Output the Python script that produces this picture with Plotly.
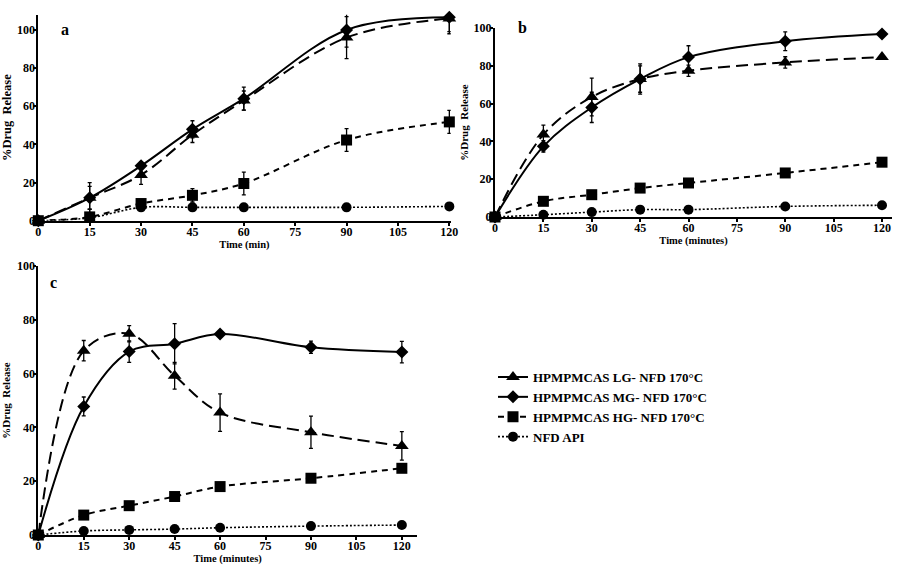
import plotly.graph_objects as go

time = [0, 15, 30, 45, 60, 90, 120]
x_ticks = [0, 15, 30, 45, 60, 75, 90, 105, 120]
y_ticks = [0, 20, 40, 60, 80, 100]
series_names = ["HPMPMCAS LG- NFD 170°C", "HPMPMCAS MG- NFD 170°C",
                "HPMPMCAS HG- NFD 170°C", "NFD API"]

# Panel a
a_lg = [0, 12, 24, 45, 63, 96, 106]
a_lg_err = [0, 6, 5, 4, 5, 11, 8]
a_mg = [0, 12, 28.8, 47.9, 64, 100, 106.6]
a_mg_err = [0, 8, 2, 4.5, 6, 9, 7.5]
a_hg = [0, 2, 9, 13.3, 19.5, 42.3, 51.8]
a_hg_err = [0, 4, 2, 3.5, 6, 6, 6]
a_api = [0, 1.5, 7, 7, 7, 7, 7.5]
a_api_err = [0, 0.5, 0.5, 0.5, 0.5, 0.5, 0.5]

# Panel b
b_lg = [0, 43.6, 63.5, 73, 77.4, 81.8, 84.6]
b_lg_err = [0, 5, 10, 8, 3, 3, 0]
b_mg = [0, 37.4, 58, 73, 84.6, 93, 96.8]
b_mg_err = [0, 3, 8, 7, 6, 5, 0]
b_hg = [0, 8.3, 11.8, 15.3, 18, 23.3, 29]
b_hg_err = [0, 0.5, 0.5, 0.5, 0.5, 2, 0.5]
b_api = [0, 1.2, 2.6, 3.9, 3.9, 5.6, 6.2]
b_api_err = [0, 0.3, 0.3, 0.3, 0.3, 0.3, 0.3]

# Panel c
c_lg = [0, 68.5, 74.8, 59.2, 45.5, 38.2, 33.1]
c_lg_err = [0, 3.8, 3, 5, 7, 6, 5.3]
c_mg = [0, 47.8, 68.2, 71.1, 74.7, 69.8, 68]
c_mg_err = [0, 3.5, 4, 7.5, 0.5, 2.3, 4]
c_hg = [0, 7.4, 10.9, 14.3, 18, 21.1, 24.8]
c_hg_err = [0, 0.5, 0.5, 0.5, 0.5, 0.5, 0.5]
c_api = [0, 1.5, 1.9, 2.2, 2.7, 3.3, 3.7]
c_api_err = [0, 0.3, 0.3, 0.3, 0.3, 0.3, 0.3]

panels = [
    ("x", "y", [a_lg, a_mg, a_hg, a_api], [a_lg_err, a_mg_err, a_hg_err, a_api_err]),
    ("x2", "y2", [b_lg, b_mg, b_hg, b_api], [b_lg_err, b_mg_err, b_hg_err, b_api_err]),
    ("x3", "y3", [c_lg, c_mg, c_hg, c_api], [c_lg_err, c_mg_err, c_hg_err, c_api_err]),
]

symbols = ["triangle-up", "diamond", "square", "circle"]
msizes = [12, 10, 11, 10]
dashes = ["12px,6px", "solid", "6px,5px", "2px,2px"]
widths = [2, 2, 2, 1.6]
draw_order = [3, 0, 1, 2]  # API first so squares sit on top

FONT = "Liberation Serif"
fig = go.Figure()
for pi, (xa, ya, vals, errs) in enumerate(panels):
    for si in draw_order:
        fig.add_trace(go.Scatter(
            x=time, y=vals[si], xaxis=xa, yaxis=ya,
            mode="lines+markers",
            name=series_names[si],
            legendgroup=series_names[si],
            legendrank=si + 1,
            showlegend=(pi == 0),
            cliponaxis=False,
            line=dict(color="black", width=widths[si], dash=dashes[si],
                      shape="spline", smoothing=1),
            marker=dict(symbol=symbols[si], size=msizes[si], color="black"),
            error_y=dict(type="data", array=errs[si], visible=True,
                         color="black", thickness=1.3, width=2),
        ))

tickfont = dict(family=FONT, size=12, color="black", weight="bold")
axis_common = dict(showline=True, linecolor="black", linewidth=2, automargin=False,
                   ticks="outside", ticklen=3, tickwidth=1.5, tickcolor="black",
                   showgrid=False, zeroline=False, tickfont=tickfont)
xtitle_font = dict(family=FONT, size=10.5, color="black", weight="bold")

def xtitle(text):
    return dict(text=text, font=xtitle_font, standoff=2)

def ytitle(size, standoff):
    return dict(text="%Drug\u00a0\u00a0Release", standoff=standoff,
                font=dict(family=FONT, size=size, color="black", weight="bold"))

W, H = 902, 569
def dx(px): return px / W
def dy(px): return 1 - px / H

fig.update_layout(
    width=W, height=H, margin=dict(l=0, r=0, t=0, b=0),
    plot_bgcolor="white", paper_bgcolor="white",
    font=dict(family=FONT, color="black"),
    xaxis=dict(domain=[dx(38.3), dx(450.7)], range=[0, 120.4], anchor="y",
               tickvals=x_ticks, title=xtitle("Time (min)"), ticklabelstandoff=-4,
               **axis_common),
    yaxis=dict(domain=[dy(220.7), dy(14.7)], range=[0, 108], anchor="x",
               tickvals=y_ticks, title=ytitle(12.5, 10), ticklabelstandoff=-4,
               **axis_common),
    xaxis2=dict(domain=[dx(495), dx(892)], range=[0, 123.1], anchor="y2",
                tickvals=x_ticks, title=xtitle("Time (minutes)"), ticklabelstandoff=-4,
                **axis_common),
    yaxis2=dict(domain=[dy(217), dy(28)], range=[0, 100], anchor="x2",
                tickvals=y_ticks, title=ytitle(11, 3), ticklabelstandoff=-4,
                **axis_common),
    xaxis3=dict(domain=[dx(38.3), dx(417)], range=[0, 125], anchor="y3",
                tickvals=x_ticks, title=xtitle("Time (minutes)"), ticklabelstandoff=-4,
                **axis_common),
    yaxis3=dict(domain=[dy(535), dy(266)], range=[0, 100], anchor="x3",
                tickvals=y_ticks, title=ytitle(11, 10), ticklabelstandoff=-4,
                **axis_common),
    legend=dict(x=dx(493), y=dy(362), xanchor="left", yanchor="top",
                font=dict(family=FONT, size=13, color="black", weight="bold"),
                itemwidth=30, tracegroupgap=0, bgcolor="rgba(0,0,0,0)"),
    annotations=[
        dict(text="a", x=7.8, y=100, xref="x", yref="y", showarrow=False,
             font=dict(family=FONT, size=16, color="black", weight="bold")),
        dict(text="b", x=8.4, y=100, xref="x2", yref="y2", showarrow=False,
             font=dict(family=FONT, size=16, color="black", weight="bold")),
        dict(text="c", x=4.9, y=93.8, xref="x3", yref="y3", showarrow=False,
             font=dict(family=FONT, size=16, color="black", weight="bold")),
    ],
)

fig.write_html("out.html", config={"displayModeBar": False},
               post_script="document.body.style.margin='0';document.body.style.overflow='hidden';")
